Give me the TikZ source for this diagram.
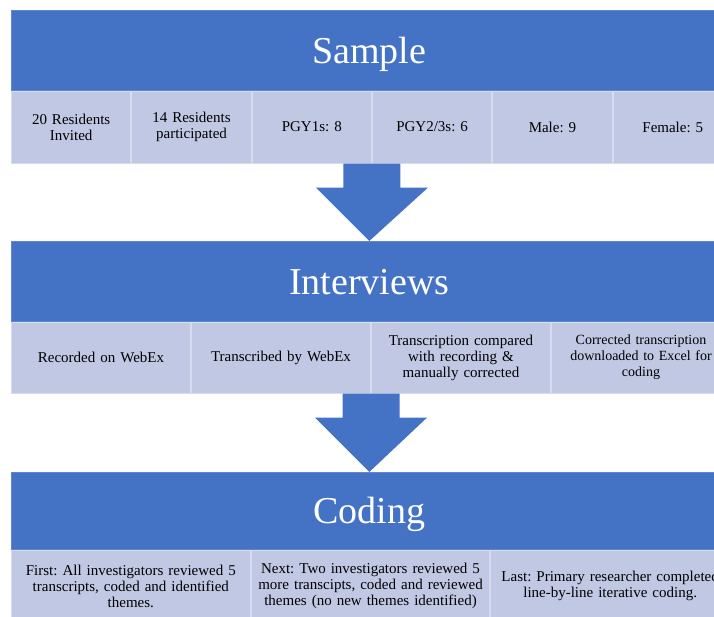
\documentclass[tikz,border=0pt]{standalone}
\usepackage{fontspec}
\setmainfont{Liberation Serif}
\frenchspacing
\usetikzlibrary{calc}
\definecolor{hdrblue}{HTML}{4472C4}
\definecolor{celllilac}{HTML}{C0C8E4}
\definecolor{cellline}{HTML}{D6DBEF}
\tikzset{
  header/.style = {fill = hdrblue, draw = hdrblue!85!white, line width = .6, text = white,
    anchor = north west, inner sep = 0, minimum width = 716, minimum height = 80,
    text height = 26, text depth = 0, font = \fontsize{38}{44}\selectfont},
  cell/.style = {fill = celllilac, draw = cellline, line width = 1, anchor = north west,
    align = center, inner xsep = 2, inner ysep = 0, text width = #1,
    font = \fontsize{15}{16}\selectfont},
}
% block arrow from the middle of a row down to the next header
\newcommand\flowarrow[2]{%
  \fill [hdrblue] ($(#1) + (-28.5, 0)$) -- ($(#1) + (28.5, 0)$) -- ($(#1) + (28.5, 24)$)
    -- ($(#1) + (56, 24)$) -- (#2) -- ($(#1) + (-56, 24)$) -- ($(#1) + (-28.5, 24)$) -- cycle;}
\begin{document}
\begin{tikzpicture}[x = 1pt, y = -1pt]
    \path [use as bounding box, clip] (0, 0) rectangle (714, 617);
    % sample
    \node [header] (smp) at (11, 10) {Sample};
    \node [cell = 115.33, minimum height = 72] (s1) at (smp.south west) {20 Residents\\Invited};
    \node [cell = 115.33, minimum height = 72] (s2) at (s1.north east) {14 Residents\\participated};
    \node [cell = 115.33, minimum height = 72] (s3) at (s2.north east) {PGY1s: 8};
    \node [cell = 115.33, minimum height = 72] (s4) at (s3.north east) {PGY2/3s: 6};
    \node [cell = 115.33, minimum height = 72] (s5) at (s4.north east) {Male: 9};
    \node [cell = 115.33, minimum height = 72] (s6) at (s5.north east) {Female: 5};
    % interviews
    \node [header] (intv) at (11, 241) {Interviews};
    \node [cell = 175, minimum height = 71] (i1) at (intv.south west) {Recorded on WebEx};
    \node [cell = 175, minimum height = 71] (i2) at (i1.north east) {Transcribed by WebEx};
    \node [cell = 175, minimum height = 71] (i3) at (i2.north east) {Transcription compared\\with recording \&\\manually corrected};
    \node [cell = 175, minimum height = 71, font = \fontsize{14}{16}\selectfont] (i4) at (i3.north east) {Corrected transcription\\downloaded to Excel for\\coding};
    % coding
    \node [header, minimum height = 77] (cod) at (11, 472) {Coding};
    \node [cell = 234.67, minimum height = 72] (c1) at (cod.south west) {First: All investigators reviewed 5\\transcripts, coded and identified\\themes.};
    \node [cell = 234.67, minimum height = 72] (c2) at (c1.north east) {Next: Two investigators reviewed 5\\more transcipts, coded and reviewed\\themes (no new themes identified)};
    \node [cell = 234.67, minimum height = 72] (c3) at (c2.north east) {Last: Primary researcher completed\\line-by-line iterative coding.};
    % arrows
    \flowarrow{s3.south east}{intv.north}
    \flowarrow{i2.south east}{cod.north}
\end{tikzpicture}
\end{document}
